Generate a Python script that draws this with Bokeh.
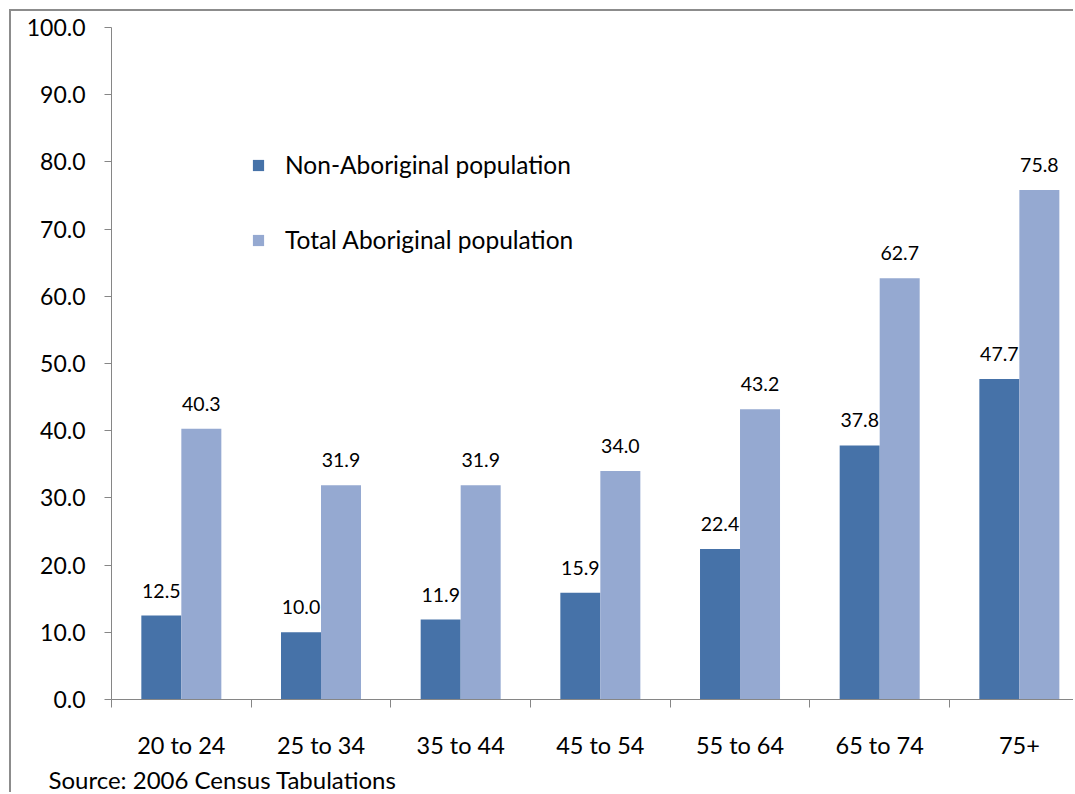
import numpy as np
from bokeh.plotting import figure
from bokeh.models import (ColumnDataSource, Range1d, FixedTicker, NumeralTickFormatter,
                          LabelSet, Legend, LegendItem, Title)
from bokeh.core.properties import value
from bokeh.embed import file_html
from bokeh.resources import INLINE

categories = ["20 to 24", "25 to 34", "35 to 44", "45 to 54", "55 to 64", "65 to 74", "75+"]
non_aboriginal = [12.5, 10.0, 11.9, 15.9, 22.4, 37.8, 47.7]
total_aboriginal = [40.3, 31.9, 31.9, 34.0, 43.2, 62.7, 75.8]
y_ticks = [0, 10, 20, 30, 40, 50, 60, 70, 80, 90, 100]
source_note = "Source: 2006 Census Tabulations"

DARK = "#4672a8"
LIGHT = "#95a9d1"
FONT = "Lato"

# host element placed at (9, 9) with a 2px border -> canvas starts at (11, 11)
W, H = 1064, 783
frame_left = 100      # frame starts at x = 111
frame_top = 16        # frame top at y = 27
frame_bottom = 94     # frame bottom at y = 700
cat_px = 139.67
bar_w = 0.2864

idx = np.arange(len(categories))
x_end = (W - frame_left) / cat_px

src1 = ColumnDataSource(dict(x=idx + 0.5 - bar_w / 2, y=non_aboriginal,
                             lab=[f"{v:.1f}" for v in non_aboriginal]))
src2 = ColumnDataSource(dict(x=idx + 0.5 + bar_w / 2, y=total_aboriginal,
                             lab=[f"{v:.1f}" for v in total_aboriginal]))

p = figure(width=W, height=H, output_backend="svg", toolbar_location=None,
           x_range=Range1d(0, x_end), y_range=Range1d(0, 100),
           min_border_left=frame_left, min_border_right=0,
           min_border_top=frame_top, min_border_bottom=frame_bottom,
           styles={"margin": "9px 0 0 9px",
                   "border-top": "2px solid #8c8c8c", "border-left": "2px solid #8c8c8c"})
p.outline_line_color = None
p.xgrid.visible = False
p.ygrid.visible = False
p.background_fill_color = "white"
p.border_fill_color = "white"

r1 = p.vbar(x="x", top="y", width=bar_w, source=src1, fill_color=DARK, line_color=None)
r2 = p.vbar(x="x", top="y", width=bar_w, source=src2, fill_color=LIGHT, line_color=None)

for s in (src1, src2):
    p.add_layout(LabelSet(x="x", y="y", text="lab", source=s, text_align="center",
                          text_baseline="alphabetic", y_offset=18,
                          text_font=value(FONT), text_font_size=value("19.5px"),
                          text_color="black"))

# y axis
ya = p.yaxis[0]
ya.ticker = FixedTicker(ticks=y_ticks)
ya.formatter = NumeralTickFormatter(format="0.0")
ya.major_tick_out = 7
ya.major_tick_in = 0
ya.minor_tick_line_color = None
ya.axis_line_color = "#868686"
ya.major_tick_line_color = "#868686"
ya.major_label_standoff = 19
ya.major_label_text_font = FONT
ya.major_label_text_font_size = "23px"
ya.major_label_text_color = "black"

# x axis: labels at category centres, tick marks at category boundaries
xa = p.xaxis[0]
centers = [float(i) + 0.5 for i in idx]
xa.ticker = FixedTicker(ticks=centers, minor_ticks=[float(i) for i in range(len(categories) + 1)])
xa.major_label_overrides = {c: name for c, name in zip(centers, categories)}
xa.major_tick_line_color = None
xa.major_tick_out = 0
xa.major_tick_in = 0
xa.minor_tick_out = 8
xa.minor_tick_in = 0
xa.minor_tick_line_color = "#868686"
xa.axis_line_color = "#868686"
xa.major_label_standoff = 23
xa.major_label_text_font = FONT
xa.major_label_text_font_size = "23.5px"
xa.major_label_text_color = "black"

legend = Legend(items=[LegendItem(label="Non-Aboriginal population", renderers=[r1]),
                       LegendItem(label="Total Aboriginal population", renderers=[r2])],
                location=(140, 445), orientation="vertical",
                padding=0, margin=0, spacing=46,
                glyph_width=14, glyph_height=14, label_standoff=20,
                label_text_font=FONT, label_text_font_size="24.5px", label_text_color="black",
                border_line_color=None, background_fill_alpha=0)
p.add_layout(legend)

p.add_layout(Title(text=source_note, align="left", offset=-63, standoff=2,
                   text_font=FONT, text_font_size="24px", text_font_style="normal",
                   text_color="black"), "below")

open("out.html", "w").write(file_html(p, INLINE))
